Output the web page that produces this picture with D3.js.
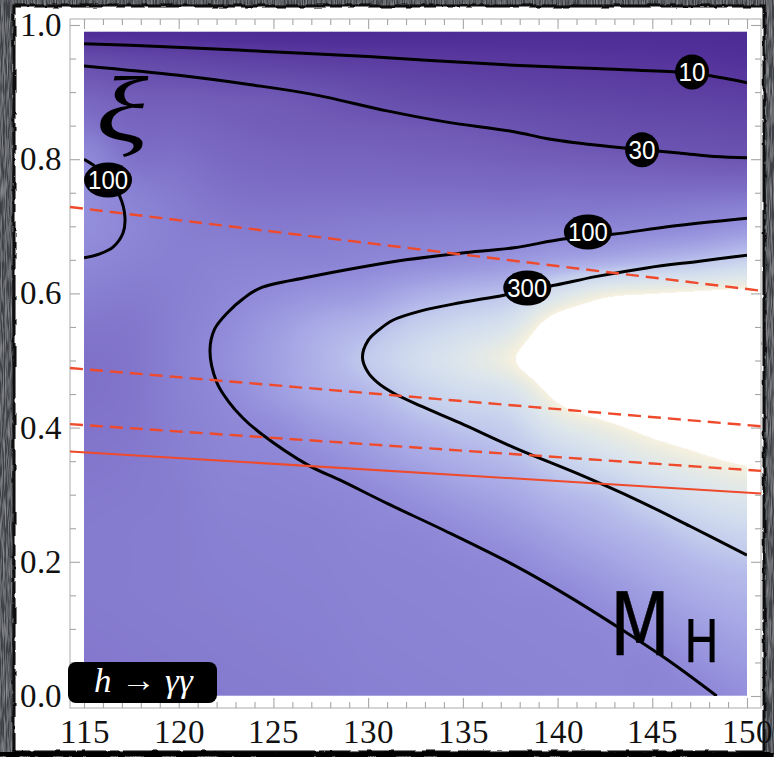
<!DOCTYPE html>
<html>
<head>
<meta charset="utf-8">
<script src="https://cdn.jsdelivr.net/npm/d3@7"></script>
<style>
  @font-face {
    font-family: "PlotSerif";
    src: local("Liberation Serif"), local("LiberationSerif-Regular"), local("DejaVu Serif"), local("DejaVuSerif"), local("Times New Roman");
  }
  @font-face {
    font-family: "PlotSerif";
    font-style: italic;
    src: local("Liberation Serif Italic"), local("LiberationSerif-Italic"), local("DejaVu Serif Italic"), local("DejaVuSerif-Italic");
  }
  html, body { margin: 0; padding: 0; background: #3c3f44; }
  svg { display: block; }
</style>
</head>
<body>
<div id="chart"></div>
<script>
// ---------- data ----------
const massTicks = [115, 120, 125, 130, 135, 140, 145, 150];
const xiTicks = [0.0, 0.2, 0.4, 0.6, 0.8, 1.0];

// grid of log10(rate) sampled over (M_H, xi)
const gridMass = [115, 117.5, 120, 122.5, 125, 127.5, 130, 132.5, 135, 137.5, 140, 142.5, 145, 147.5, 150];
const gridXi = [0.00, 0.05, 0.10, 0.15, 0.20, 0.25, 0.30, 0.35, 0.40, 0.45, 0.50,
                0.55, 0.60, 0.65, 0.70, 0.75, 0.80, 0.85, 0.90, 0.95, 1.00];
const logRate = [
  [1.83,1.84,1.85,1.86,1.87,1.88,1.90,1.91,1.92,1.93,1.94,1.95,1.95,1.97,2.06],
  [1.84,1.85,1.86,1.87,1.88,1.89,1.91,1.92,1.93,1.94,1.95,1.96,1.96,2.07,2.16],
  [1.85,1.86,1.87,1.88,1.89,1.90,1.92,1.93,1.94,1.95,1.96,1.98,2.08,2.18,2.26],
  [1.86,1.87,1.88,1.89,1.90,1.91,1.93,1.94,1.95,1.97,1.99,2.09,2.20,2.30,2.36],
  [1.86,1.87,1.88,1.90,1.91,1.92,1.94,1.95,1.97,2.01,2.12,2.22,2.32,2.41,2.46],
  [1.86,1.87,1.88,1.91,1.92,1.93,1.96,1.98,2.05,2.14,2.25,2.35,2.44,2.55,2.63],
  [1.85,1.86,1.88,1.93,1.94,1.96,2.00,2.09,2.19,2.27,2.39,2.47,2.62,2.74,2.82],
  [1.83,1.85,1.89,1.95,1.97,2.02,2.13,2.24,2.33,2.41,2.55,2.70,2.84,2.94,3.01],
  [1.81,1.83,1.90,1.97,2.03,2.16,2.26,2.38,2.47,2.55,2.80,2.93,3.05,3.12,3.20],
  [1.79,1.82,1.91,2.01,2.16,2.30,2.39,2.54,2.65,2.74,3.04,3.20,3.25,3.30,3.35],
  [1.79,1.82,1.92,2.055,2.20,2.35,2.50,2.66,2.80,2.96,3.20,3.30,3.40,3.45,3.50],
  [1.83,1.83,1.91,2.02,2.16,2.30,2.39,2.54,2.65,2.78,3.12,3.20,3.30,3.35,3.40],
  [1.90,1.87,1.90,1.97,2.04,2.11,2.17,2.30,2.39,2.47,2.74,2.93,2.98,3.02,3.05],
  [1.99,1.93,1.90,1.92,1.93,1.93,1.97,2.01,2.06,2.12,2.22,2.29,2.37,2.45,2.55],
  [2.05,1.97,1.89,1.86,1.85,1.86,1.88,1.89,1.90,1.91,1.93,1.95,1.98,2.02,2.10],
  [2.05,1.92,1.85,1.79,1.77,1.77,1.77,1.77,1.77,1.76,1.77,1.76,1.77,1.78,1.79],
  [2.01,1.80,1.78,1.72,1.69,1.67,1.67,1.65,1.64,1.62,1.60,1.58,1.56,1.53,1.51],
  [1.82,1.69,1.68,1.64,1.60,1.58,1.56,1.54,1.51,1.46,1.41,1.37,1.34,1.32,1.28],
  [1.64,1.57,1.56,1.53,1.51,1.45,1.36,1.29,1.24,1.21,1.17,1.15,1.11,1.09,1.06],
  [1.33,1.26,1.21,1.15,1.10,1.05,1.03,1.00,0.98,0.95,0.94,0.90,0.88,0.85,0.80],
  [0.60,0.60,0.60,0.55,0.55,0.55,0.55,0.60,0.60,0.65,0.65,0.65,0.65,0.62,0.60]
];

// contour lines (M_H, xi) at the labelled rate levels
const contours = [
  { level: 10, points: [[115,0.972],[119,0.968],[124.3,0.961],[130,0.953],[134,0.946],[137.7,0.940],
      [142,0.935],[146.3,0.930],[147.9,0.925],[150,0.914]] },
  { level: 30, points: [[115,0.939],[120,0.925],[123.8,0.911],[127,0.897],[131,0.872],[134,0.856],
      [137.7,0.841],[139.4,0.831],[142,0.821],[144.5,0.814],[146.5,0.809],[148.3,0.804],[150,0.802]] },
  { level: 100, points: [[150,0.712],[146,0.700],[142.9,0.688],[140.3,0.681],[137.7,0.668],[134.85,0.660],
      [132,0.650],[129.6,0.639],[126.8,0.624],[124.3,0.608],[123.4,0.592],[122.6,0.572],[121.9,0.547],
      [121.65,0.515],[122.0,0.468],[122.6,0.440],[123.4,0.414],[124.3,0.392],[126.9,0.343],[128.5,0.322],
      [131,0.287],[134,0.247],[137.7,0.195],[140.5,0.150],[143,0.106],[145.8,0.054],[148.4,0.0]] },
  { level: 300, points: [[150,0.657],[147.5,0.648],[144.7,0.638],[142,0.625],[139.9,0.6125],[138.4,0.605],
      [137.1,0.597],[134.85,0.586],[132.8,0.574],[131.3,0.560],[130.5,0.544],[130,0.530],[129.7,0.505],
      [130,0.482],[130.5,0.467],[131.3,0.452],[132.8,0.432],[134.85,0.407],[137.8,0.369],[141,0.332],
      [144.2,0.292],[147,0.253],[150,0.210]] },
  { level: 100, points: [[115,0.800],[115.6,0.789],[116.3,0.769],[116.9,0.744],[117.16,0.714],
      [117.06,0.690],[116.53,0.669],[115.84,0.659],[115,0.653]] }
];

// label positions on each contour (same order as contours)
const labelSpots = [[147.1,0.930],[144.46,0.814],[141.6,0.6915],[138.4,0.608],[116.27,0.769]];

// red lines across the frame
const redDashed = [
  [[114.26,0.7288],[150.74,0.604]],
  [[114.26,0.4888],[150.74,0.402]],
  [[114.26,0.4052],[150.74,0.3355]]
];
const redSolid = [[114.26,0.3645],[150.74,0.3018]];

// ---------- layout ----------
const W = 774, H = 757;
const x = d3.scaleLinear().domain([115, 150]).range([84, 747]);
const y = d3.scaleLinear().domain([0, 1]).range([696, 25]);
const frame = { left: 70, right: 761, top: 19, bottom: 708 };
const xiTop = 0.99;
const serifFont = '"PlotSerif", "Liberation Serif", "DejaVu Serif", "Noto Serif", serif';

const svg = d3.select("#chart").append("svg")
  .attr("width", W).attr("height", H)
  .attr("viewBox", `0 0 ${W} ${H}`);

const defs = svg.append("defs");

// grainy dark backdrop
const grain = defs.append("filter").attr("id", "grain")
  .attr("x", 0).attr("y", 0).attr("width", "100%").attr("height", "100%");
grain.append("feTurbulence").attr("type", "fractalNoise")
  .attr("baseFrequency", "0.9 0.05").attr("numOctaves", 2).attr("seed", 4).attr("result", "n");
grain.append("feColorMatrix").attr("in", "n").attr("type", "matrix")
  .attr("values", "0 0 0 0 0.45  0 0 0 0 0.46  0 0 0 0 0.49  0 0 0 1.2 -0.45").attr("result", "g");
grain.append("feComposite").attr("in", "g").attr("in2", "SourceGraphic").attr("operator", "over");

// rough ink edge for the panel
const rough = defs.append("filter").attr("id", "rough")
  .attr("x", "-5%").attr("y", "-5%").attr("width", "110%").attr("height", "110%");
rough.append("feTurbulence").attr("type", "fractalNoise")
  .attr("baseFrequency", 0.08).attr("numOctaves", 2).attr("seed", 7).attr("result", "t");
rough.append("feDisplacementMap").attr("in", "SourceGraphic").attr("in2", "t")
  .attr("scale", 4).attr("xChannelSelector", "R").attr("yChannelSelector", "G");

svg.append("rect").attr("width", W).attr("height", H).attr("fill", "#3c3f44")
  .attr("filter", "url(#grain)");

// white panel with inked border
svg.append("rect").attr("x", 14).attr("y", 6).attr("width", 750).attr("height", 746)
  .attr("fill", "#ffffff");
svg.append("rect").attr("x", 14).attr("y", 6).attr("width", 750).attr("height", 746)
  .attr("fill", "none").attr("stroke", "#0a0a0a").attr("stroke-width", 3)
  .attr("filter", "url(#rough)");
svg.append("rect").attr("x", 0).attr("y", 752).attr("width", W).attr("height", 5)
  .attr("fill", "#050505").attr("filter", "url(#rough)");

// ---------- density raster ----------
const color = d3.scaleLinear()
  .domain([0.5, 0.8, 1.0, 1.25, 1.5, 1.75, 1.9, 2.0, 2.2, 2.4, 2.5, 2.65, 2.8, 2.92, 2.97])
  .range(["#4a2890","#52309a","#5a3a9f","#6248a8","#6c55b2","#7c6cc5","#8880d2","#8f89d8",
          "#a09fe2","#b4b9ea","#c2cbec","#d0dbee","#dde6ec","#ebece2","#f5f0df"])
  .clamp(true);
const whiteLevel = 2.985;

const lutN = 1024, lutMin = 0.4, lutMax = 3.0;
const lut = d3.range(lutN).map(k => d3.rgb(color(lutMin + (lutMax - lutMin) * k / (lutN - 1))));

const colIndex = d3.scaleLinear().domain(gridMass).range(gridMass.map((d, i) => i)).clamp(true);
const rowIndex = d3.scaleLinear().domain(gridXi).range(gridXi.map((d, i) => i)).clamp(true);

// Catmull-Rom weights for smooth raster sampling of the grid
function cr(p0, p1, p2, p3, t) {
  return 0.5 * ((2 * p1) + (-p0 + p2) * t + (2 * p0 - 5 * p1 + 4 * p2 - p3) * t * t +
                (-p0 + 3 * p1 - 3 * p2 + p3) * t * t * t);
}
const nI = gridMass.length, nJ = gridXi.length;
const at = (j, i) => logRate[Math.max(0, Math.min(nJ - 1, j))][Math.max(0, Math.min(nI - 1, i))];
function sample(fi, fj) {
  const i0 = Math.min(Math.floor(fi), nI - 2), ti = fi - i0;
  const j0 = Math.min(Math.floor(fj), nJ - 2), tj = fj - j0;
  const rows = [-1, 0, 1, 2].map(dj =>
    cr(at(j0 + dj, i0 - 1), at(j0 + dj, i0), at(j0 + dj, i0 + 1), at(j0 + dj, i0 + 2), ti));
  return cr(rows[0], rows[1], rows[2], rows[3], tj);
}

const px0 = x(115), px1 = x(150), py0 = y(xiTop), py1 = y(0);
const cw = Math.round(px1 - px0), ch = Math.round(py1 - py0);
const canvas = document.createElement("canvas");
canvas.width = cw; canvas.height = ch;
const ctx = canvas.getContext("2d");
const img = ctx.createImageData(cw, ch);
const fiCols = d3.range(cw).map(c => colIndex(x.invert(px0 + c + 0.5)));
for (let r = 0; r < ch; r++) {
  const fj = rowIndex(y.invert(py0 + r + 0.5));
  for (let c = 0; c < cw; c++) {
    const v = sample(fiCols[c], fj);
    const o = (r * cw + c) * 4;
    if (v >= whiteLevel) {
      img.data[o] = 255; img.data[o + 1] = 255; img.data[o + 2] = 255;
    } else {
      const k = Math.max(0, Math.min(lutN - 1, Math.round((v - lutMin) / (lutMax - lutMin) * (lutN - 1))));
      const col = lut[k];
      img.data[o] = col.r; img.data[o + 1] = col.g; img.data[o + 2] = col.b;
    }
    img.data[o + 3] = 255;
  }
}
ctx.putImageData(img, 0, 0);

svg.append("image")
  .attr("x", px0).attr("y", py0).attr("width", cw).attr("height", ch)
  .attr("preserveAspectRatio", "none")
  .attr("href", canvas.toDataURL());

// ---------- frame and axes ----------
svg.append("rect")
  .attr("x", frame.left).attr("y", frame.top)
  .attr("width", frame.right - frame.left).attr("height", frame.bottom - frame.top)
  .attr("fill", "none").attr("stroke", "#b9b9b9").attr("stroke-width", 1.2);

const minorMass = d3.range(115, 151).filter(d => d % 5 !== 0);
const minorXi = d3.range(0, 21).map(k => k / 20).filter((d, k) => k % 4 !== 0);

function styleAxis(g) {
  g.select(".domain").remove();
  g.attr("font-family", null).attr("font-size", null);
  g.selectAll(".tick line").attr("stroke", "#a6a6a6").attr("stroke-width", 1.1);
  g.selectAll(".tick text").attr("fill", "#111")
    .style("font-family", serifFont).style("font-size", "33px");
}

svg.append("g").attr("transform", `translate(0,${frame.bottom})`)
  .call(d3.axisBottom(x).tickValues(massTicks).tickSizeInner(-10).tickSizeOuter(0)
    .tickPadding(12).tickFormat(d3.format("d")))
  .call(styleAxis);
svg.append("g").attr("transform", `translate(0,${frame.bottom})`)
  .call(d3.axisBottom(x).tickValues(minorMass).tickSizeInner(-6).tickSizeOuter(0).tickFormat(""))
  .call(styleAxis);
svg.append("g").attr("transform", `translate(0,${frame.top})`)
  .call(d3.axisTop(x).tickValues(massTicks).tickSizeInner(-10).tickSizeOuter(0).tickFormat(""))
  .call(styleAxis);
svg.append("g").attr("transform", `translate(0,${frame.top})`)
  .call(d3.axisTop(x).tickValues(minorMass).tickSizeInner(-6).tickSizeOuter(0).tickFormat(""))
  .call(styleAxis);

svg.append("g").attr("transform", `translate(${frame.left},0)`)
  .call(d3.axisLeft(y).tickValues(xiTicks).tickSizeInner(-10).tickSizeOuter(0)
    .tickPadding(8).tickFormat(d3.format(".1f")))
  .call(styleAxis);
svg.append("g").attr("transform", `translate(${frame.left},0)`)
  .call(d3.axisLeft(y).tickValues(minorXi).tickSizeInner(-6).tickSizeOuter(0).tickFormat(""))
  .call(styleAxis);
svg.append("g").attr("transform", `translate(${frame.right},0)`)
  .call(d3.axisRight(y).tickValues(xiTicks).tickSizeInner(-10).tickSizeOuter(0).tickFormat(""))
  .call(styleAxis);
svg.append("g").attr("transform", `translate(${frame.right},0)`)
  .call(d3.axisRight(y).tickValues(minorXi).tickSizeInner(-6).tickSizeOuter(0).tickFormat(""))
  .call(styleAxis);

// ---------- contour lines ----------
defs.append("clipPath").attr("id", "plotClip").append("rect")
  .attr("x", px0).attr("y", py0).attr("width", px1 - px0).attr("height", py1 - py0);

const curve = d3.line().x(d => x(d[0])).y(d => y(d[1])).curve(d3.curveCatmullRom.alpha(0.5));

svg.append("g").attr("clip-path", "url(#plotClip)")
  .selectAll("path").data(contours).join("path")
  .attr("d", d => curve(d.points))
  .attr("fill", "none").attr("stroke", "#000").attr("stroke-width", 3);

// ---------- red lines ----------
const straight = d3.line().x(d => x(d[0])).y(d => y(d[1]));
svg.append("g").selectAll("path").data(redDashed).join("path")
  .attr("d", straight)
  .attr("fill", "none").attr("stroke", "#ef4a2b").attr("stroke-width", 2.4)
  .attr("stroke-dasharray", "13,7");
svg.append("path").attr("d", straight(redSolid))
  .attr("fill", "none").attr("stroke", "#ef4a2b").attr("stroke-width", 2);

// ---------- contour labels ----------
const labels = svg.append("g").selectAll("g").data(contours).join("g")
  .attr("transform", (d, i) => `translate(${x(labelSpots[i][0])},${y(labelSpots[i][1])})`);
labels.append("ellipse")
  .attr("rx", d => String(d.level).length > 2 ? 24 : 17).attr("ry", 17.5)
  .attr("fill", "#000");
labels.append("text")
  .attr("text-anchor", "middle").attr("dy", "0.36em")
  .style("font-family", '"Liberation Sans", Arial, sans-serif').style("font-size", "25px")
  .attr("fill", "#fff")
  .attr("textLength", d => String(d.level).length > 2 ? 40 : 27)
  .attr("lengthAdjust", "spacingAndGlyphs")
  .text(d => d.level);

// ---------- annotations ----------
svg.append("text")
  .attr("transform", "translate(122,141) scale(1.3,1)")
  .attr("text-anchor", "middle")
  .style("font-family", serifFont).style("font-style", "italic").style("font-size", "94px")
  .attr("fill", "#000")
  .text("ξ");

const mh = svg.append("g").attr("fill", "#000").attr("stroke", "#000")
  .attr("stroke-linejoin", "round").attr("stroke-linecap", "round")
  .style("font-family", '"DejaVu Sans", sans-serif');
mh.append("text").attr("x", 610).attr("y", 655).style("font-size", "88px")
  .attr("stroke-width", 0.6).attr("textLength", 60).attr("lengthAdjust", "spacingAndGlyphs")
  .text("M");
mh.append("text").attr("x", 684).attr("y", 662).style("font-size", "59px")
  .attr("stroke-width", 0.3).attr("textLength", 35).attr("lengthAdjust", "spacingAndGlyphs")
  .text("H");

// process badge
svg.append("rect").attr("x", 68).attr("y", 662).attr("width", 149).attr("height", 41)
  .attr("rx", 8).attr("fill", "#000");
const badge = svg.append("text").attr("x", 143).attr("y", 692)
  .attr("text-anchor", "middle")
  .style("font-family", serifFont).style("font-size", "35px")
  .attr("fill", "#fff");
badge.append("tspan").style("font-style", "italic").text("h");
badge.append("tspan").text(" → ");
badge.append("tspan").style("font-style", "italic").text("γγ");
</script>
</body>
</html>
